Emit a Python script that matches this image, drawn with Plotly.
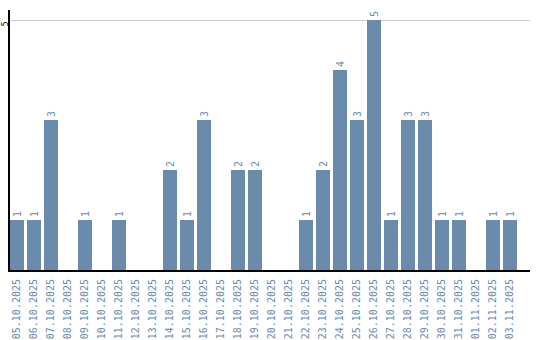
import plotly.graph_objects as go

dates = ["05.10.2025", "06.10.2025", "07.10.2025", "08.10.2025", "09.10.2025",
         "10.10.2025", "11.10.2025", "12.10.2025", "13.10.2025", "14.10.2025",
         "15.10.2025", "16.10.2025", "17.10.2025", "18.10.2025", "19.10.2025",
         "20.10.2025", "21.10.2025", "22.10.2025", "23.10.2025", "24.10.2025",
         "25.10.2025", "26.10.2025", "27.10.2025", "28.10.2025", "29.10.2025",
         "30.10.2025", "31.10.2025", "01.11.2025", "02.11.2025", "03.11.2025"]
counts = [1, 1, 3, 0, 1, 0, 1, 0, 0, 2, 1, 3, 0, 2, 2, 0, 0, 1, 2, 4,
          3, 5, 1, 3, 3, 1, 1, 0, 1, 1]
y_ticks = [5]

bar_color = "#6a8bab"
label_color = "#6a8bb0"

fig = go.Figure()
fig.add_trace(go.Bar(
    x=list(range(len(dates))),
    y=counts,
    marker=dict(color=bar_color, line=dict(width=0)),
    width=14 / 17,
    text=[str(v) if v else "" for v in counts],
    textposition="outside",
    textangle=-90,
    textfont=dict(family="DejaVu Sans Mono", size=10, color=label_color),
    cliponaxis=False,
    hoverinfo="skip",
))

fig.update_layout(
    width=540, height=340,
    margin=dict(l=10, r=10, t=10, b=70),
    paper_bgcolor="white", plot_bgcolor="white",
    showlegend=False,
    bargap=0,
    uniformtext=dict(minsize=10, mode="show"),
    xaxis=dict(
        range=[-0.41, 30.18],
        tickmode="array",
        tickvals=list(range(len(dates))),
        ticktext=dates,
        tickangle=-90,
        tickfont=dict(family="DejaVu Sans Mono", size=10, color=label_color),
        showgrid=False, zeroline=False,
        showline=True, linecolor="black", linewidth=2,
        ticks="", ticklabelstandoff=3,
        automargin=False,
    ),
    yaxis=dict(
        range=[0, 5.2],
        tickmode="array",
        tickvals=y_ticks,
        ticktext=[str(t) for t in y_ticks],
        tickangle=-90,
        tickfont=dict(family="DejaVu Sans Mono", size=8, color="black"),
        showgrid=True, gridcolor="#cccccc", gridwidth=1,
        zeroline=False,
        showline=True, linecolor="black", linewidth=2,
        ticks="", ticklabelstandoff=-3, ticklabelshift=5,
        automargin=False,
    ),
)

fig.write_html("out.html")
